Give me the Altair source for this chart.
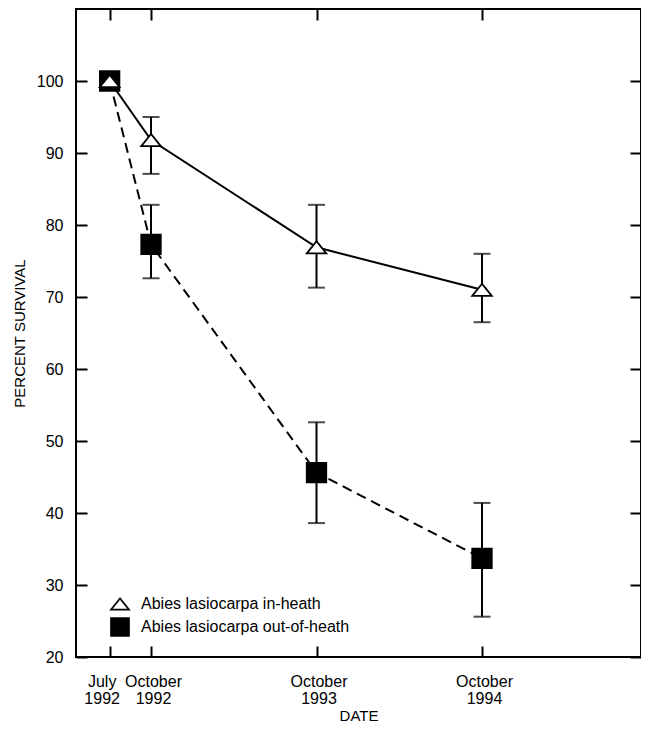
import altair as alt
import pandas as pd

# ---- data ----
dates = [0, 3, 15, 27]  # months since July 1992
date_labels = ["July\n1992", "October\n1992", "October\n1993", "October\n1994"]
series_names = ["Abies lasiocarpa in-heath", "Abies lasiocarpa out-of-heath"]

in_mean = [100, 91.8, 76.9, 71.0]
in_lo = [None, 87.1, 71.3, 66.5]
in_hi = [None, 95.0, 82.8, 76.0]

out_mean = [100, 77.3, 45.6, 33.7]
out_lo = [None, 72.6, 38.6, 25.6]
out_hi = [None, 82.8, 52.6, 41.4]

y_ticks = [20, 30, 40, 50, 60, 70, 80, 90, 100]

rows = []
for name, mean, lo, hi in [
    (series_names[1], out_mean, out_lo, out_hi),
    (series_names[0], in_mean, in_lo, in_hi),
]:
    for d, m, l, h in zip(dates, mean, lo, hi):
        rows.append({"date": d, "series": name, "pct": m, "lo": l, "hi": h})
df = pd.DataFrame(rows)

FONT = "Liberation Sans"

# label expression built from the tick lists
expr = "''"
for d, lab in reversed(list(zip(dates, date_labels))):
    parts = ",".join("'" + p + "'" for p in lab.split("\n"))
    expr = f"datum.value == {d} ? [{parts}] : ({expr})"

x_scale = alt.Scale(domain=[-2.44, 38.53], nice=False, zero=False)
y_scale = alt.Scale(domain=[20, 110], nice=False, zero=False)

tri_path = "M0,-0.62L-1,0.62L1,0.62Z"

common_axis = dict(domain=False, ticks=True, tickSize=11, offset=-11,
                   tickColor="black", tickWidth=2, grid=False)

x_main = alt.X("date:Q", scale=x_scale, title="DATE",
               axis=alt.Axis(values=dates, labelExpr=expr, labelOverlap=False,
                             labelFontSize=16, labelFont=FONT, labelColor="black",
                             labelLineHeight=17, labelPadding=16,
                             labelOffset={"condition": {"test": "datum.value == 0", "value": -8},
                                          "value": 2},
                             titleFontSize=15, titleFont=FONT, titleFontWeight="normal",
                             titleColor="black", titlePadding=2, orient="bottom",
                             **common_axis))
y_main = alt.Y("pct:Q", scale=y_scale, title="PERCENT SURVIVAL",
               axis=alt.Axis(values=y_ticks, labelFontSize=16, labelFont=FONT,
                             labelColor="black", labelPadding=13,
                             titleFontSize=15, titleFont=FONT, titleFontWeight="normal",
                             titleColor="black", titlePadding=9, orient="left",
                             **common_axis))

base = alt.Chart(df)

line_in = base.transform_filter(alt.datum.series == series_names[0]).mark_line(
    color="black", strokeWidth=2
).encode(x=x_main, y=y_main)

line_out = base.transform_filter(alt.datum.series == series_names[1]).mark_line(
    color="black", strokeWidth=2, strokeDash=[10, 6]
).encode(
    x=alt.X("date:Q", scale=x_scale, axis=None),
    y=alt.Y("pct:Q", scale=y_scale, axis=None),
)

err = base.transform_filter("isValid(datum.lo)")

rules = err.mark_rule(color="black", strokeWidth=2).encode(
    x=alt.X("date:Q", scale=x_scale, axis=None),
    y=alt.Y("lo:Q", scale=y_scale, axis=None),
    y2="hi:Q",
)

caps = err.transform_fold(["lo", "hi"], as_=["which", "val"]).mark_tick(
    color="black", orient="horizontal", size=17, thickness=2
).encode(
    x=alt.X("date:Q", scale=x_scale, axis=None),
    y=alt.Y("val:Q", scale=y_scale, axis=None),
)

legend = alt.Legend(title=None, orient="none", legendX=34, legendY=585,
                    labelFontSize=16, labelFont=FONT, labelColor="black",
                    labelLimit=0, symbolStrokeWidth=1.8,
                    symbolSize=320, labelOffset=11, rowPadding=0, padding=0)

points = base.mark_point(filled=True, strokeWidth=1.8,
                         opacity=1, size=380).encode(
    x=alt.X("date:Q", scale=x_scale, axis=None),
    y=alt.Y("pct:Q", scale=y_scale, axis=None),
    shape=alt.Shape("series:N", scale=alt.Scale(domain=series_names,
                                                range=[tri_path, "square"]),
                    legend=legend),
    fill=alt.Fill("series:N", scale=alt.Scale(domain=series_names,
                                              range=["white", "black"]),
                  legend=legend),
    stroke=alt.Stroke("series:N", scale=alt.Scale(domain=series_names,
                                                  range=["black", "black"]),
                      legend=legend),
)

frame_axes = base.mark_point(opacity=0).encode(
    x=alt.X("date:Q", scale=x_scale,
            axis=alt.Axis(values=dates, labels=False, title=None, orient="top",
                          **common_axis)),
    y=alt.Y("pct:Q", scale=y_scale,
            axis=alt.Axis(values=y_ticks, labels=False, title=None, orient="right",
                          **common_axis)),
)

chart = alt.layer(line_in, line_out, rules, caps, points, frame_axes).resolve_axis(
    x="independent", y="independent"
).properties(
    width=565, height=648,
    autosize=alt.AutoSizeParams(type="none"),
    padding={"left": 68, "top": 1, "right": 0, "bottom": 70},
    background="white",
).configure_view(
    stroke="black", strokeWidth=2
)

chart.save("out.html", embed_options={"renderer": "svg", "actions": False})
